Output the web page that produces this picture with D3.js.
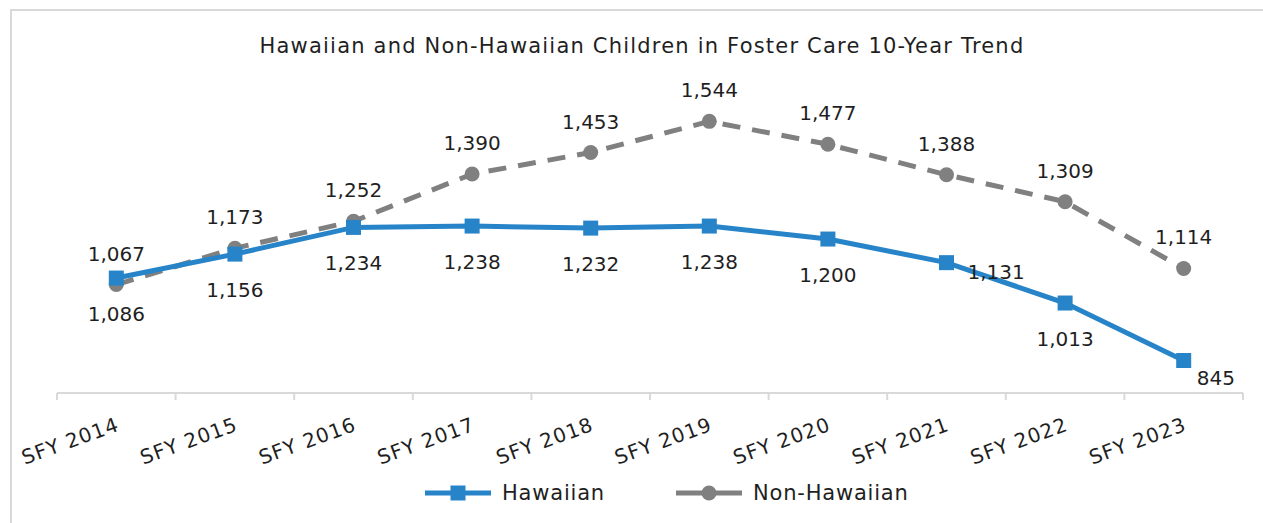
<!DOCTYPE html>
<html>
<head>
<meta charset="utf-8">
<script src="https://cdn.jsdelivr.net/npm/d3@7"></script>
<style>
  body { margin: 0; background: #fff; }
  svg { display: block; }
  text { font-family: "DejaVu Sans", sans-serif; fill: #1f1f1f; }
</style>
</head>
<body>
<svg id="chart" width="1263" height="523"></svg>
<script>
var years = ["SFY 2014", "SFY 2015", "SFY 2016", "SFY 2017", "SFY 2018", "SFY 2019", "SFY 2020", "SFY 2021", "SFY 2022", "SFY 2023"];
var hawaiian = [1086, 1156, 1234, 1238, 1232, 1238, 1200, 1131, 1013, 845];
var nonHawaiian = [1067, 1173, 1252, 1390, 1453, 1544, 1477, 1388, 1309, 1114];
// where each data label sits relative to its marker
var hawaiianLabelPos = ["below", "below", "below", "below", "below", "below", "below", "right", "below", "rightBelow"];
var nonHawaiianLabelPos = ["above", "above", "above", "above", "above", "above", "above", "above", "above", "above"];

var blue = "#2784c8";
var gray = "#808080";
var svg = d3.select("#chart");
var width = +svg.attr("width");
var height = +svg.attr("height");

// chart frame
svg.append("rect")
  .attr("x", 11).attr("y", 10)
  .attr("width", 1262).attr("height", 540)
  .attr("fill", "none")
  .attr("stroke", "#d9d9d9")
  .attr("stroke-width", 2);

svg.append("text")
  .attr("x", 642).attr("y", 53)
  .attr("text-anchor", "middle")
  .style("font-size", "21px")
  .style("letter-spacing", "1.2px")
  .text("Hawaiian and Non-Hawaiian Children in Foster Care 10-Year Trend");

var x = d3.scaleBand()
    .domain(years)
    .range([57, 1243]);

var y = d3.scaleLinear()
    .domain([750, 1700])
    .range([393, 68]);

function cx(i){
  return x(years[i]) + x.bandwidth()/2;
}

// x axis line + ticks at category boundaries
var axisG = svg.append("g");
axisG.append("line")
  .attr("x1", x.range()[0]).attr("x2", x.range()[1])
  .attr("y1", y.range()[0]).attr("y2", y.range()[0])
  .attr("stroke", "#d9d9d9").attr("stroke-width", 2);

var bounds = years.map(function(d){ return x(d); }).concat([x.range()[1]]);
axisG.selectAll(".tick").data(bounds).enter().append("line")
  .attr("class", "tick")
  .attr("x1", function(d){ return d; }).attr("x2", function(d){ return d; })
  .attr("y1", y.range()[0]).attr("y2", y.range()[0] + 7)
  .attr("stroke", "#d9d9d9").attr("stroke-width", 2);

axisG.selectAll(".xlabel").data(years).enter().append("text")
  .attr("class", "xlabel")
  .attr("text-anchor", "end")
  .attr("transform", function(d, i){
    return "translate(" + (cx(i) + 4) + "," + 430 + ") rotate(-20)";
  })
  .style("font-size", "20px")
  .style("letter-spacing", "1px")
  .text(function(d){ return d; });

var line = d3.line()
  .x(function(d, i){ return cx(i); })
  .y(function(d){ return y(d); });

// Non-Hawaiian (dashed gray, circles)
svg.append("path")
  .datum(nonHawaiian)
  .attr("d", line)
  .attr("fill", "none")
  .attr("stroke", gray)
  .attr("stroke-width", 5)
  .attr("stroke-dasharray", "18,12");

svg.selectAll(".nh-dot").data(nonHawaiian).enter().append("circle")
  .attr("class", "nh-dot")
  .attr("cx", function(d, i){ return cx(i); })
  .attr("cy", function(d){ return y(d); })
  .attr("r", 7.5)
  .attr("fill", gray);

// Hawaiian (solid blue, squares)
svg.append("path")
  .datum(hawaiian)
  .attr("d", line)
  .attr("fill", "none")
  .attr("stroke", blue)
  .attr("stroke-width", 5);

svg.selectAll(".h-sq").data(hawaiian).enter().append("rect")
  .attr("class", "h-sq")
  .attr("x", function(d, i){ return cx(i) - 7.5; })
  .attr("y", function(d){ return y(d) - 7.5; })
  .attr("width", 15).attr("height", 15)
  .attr("fill", blue);

var fmt = d3.format(",");
var offsets = {
  above: [0, -24, "middle"],
  below: [0, 43, "middle"],
  right: [21, 16, "start"],
  rightBelow: [13, 24, "start"]
};

function addLabels(data, pos, cls){
  svg.selectAll("." + cls).data(data).enter().append("text")
    .attr("class", cls)
    .attr("x", function(d, i){ return cx(i) + offsets[pos[i]][0]; })
    .attr("y", function(d){ return y(d); })
    .attr("dy", function(d, i){ return offsets[pos[i]][1]; })
    .attr("text-anchor", function(d, i){ return offsets[pos[i]][2]; })
    .style("font-size", "20px")
    .text(function(d){ return fmt(d); });
}
addLabels(nonHawaiian, nonHawaiianLabelPos, "nh-label");
addLabels(hawaiian, hawaiianLabelPos, "h-label");

// legend
var legend = [
  {name: "Hawaiian", color: blue, x: 425, shape: "square"},
  {name: "Non-Hawaiian", color: gray, x: 676, shape: "circle"}
];
var lg = svg.selectAll(".legend").data(legend).enter().append("g")
  .attr("class", "legend")
  .attr("transform", function(d){ return "translate(" + d.x + ",493)"; });
lg.append("line")
  .attr("x1", 0).attr("x2", 66)
  .attr("stroke", function(d){ return d.color; })
  .attr("stroke-width", 5);
lg.filter(function(d){ return d.shape == "square"; }).append("rect")
  .attr("x", 25.5).attr("y", -7.5).attr("width", 15).attr("height", 15)
  .attr("fill", function(d){ return d.color; });
lg.filter(function(d){ return d.shape == "circle"; }).append("circle")
  .attr("cx", 33).attr("r", 7.5)
  .attr("fill", function(d){ return d.color; });
lg.append("text")
  .attr("x", 77).attr("dy", "0.35em")
  .style("font-size", "21px")
  .style("letter-spacing", "0.8px")
  .text(function(d){ return d.name; });
</script>
</body>
</html>
